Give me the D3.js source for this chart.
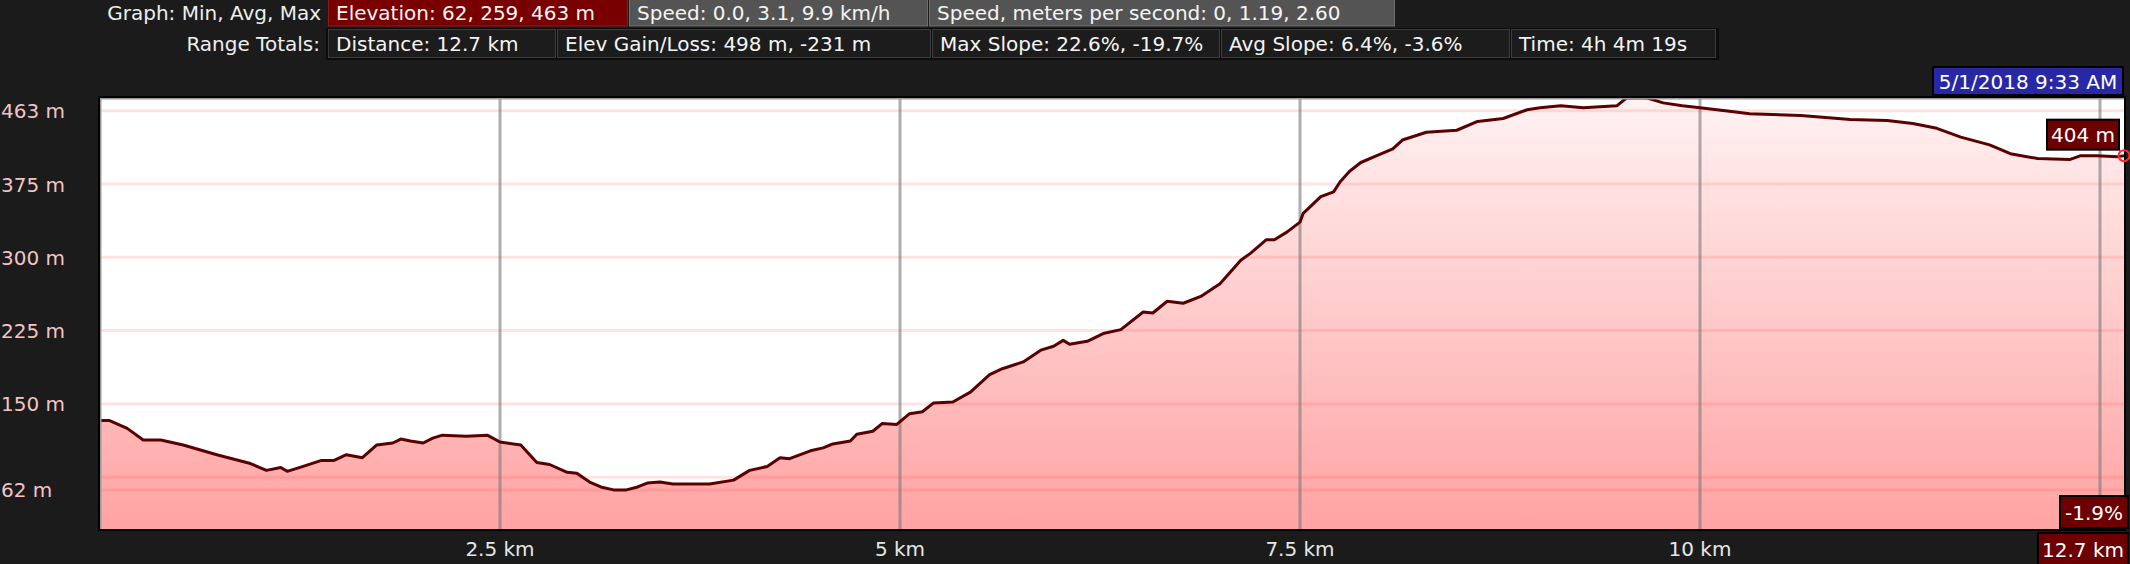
<!DOCTYPE html>
<html>
<head>
<meta charset="utf-8">
<script src="https://cdn.jsdelivr.net/npm/d3@7"></script>
<style>
  html, body { margin: 0; padding: 0; background: #1b1b1b; }
  svg { display: block; }
  text { font-family: "DejaVu Sans", Verdana, sans-serif; font-size: 20px; }
</style>
</head>
<body>
<svg id="chart"></svg>
<script>
// ── Elevation profile (distance in km, elevation in m) ──
const distKm = [
  0, 0.06, 0.17, 0.27, 0.38, 0.52, 0.73, 0.94, 1.04, 1.13, 1.17, 1.25,
  1.38, 1.46, 1.54, 1.64, 1.73, 1.83, 1.88, 1.94, 2.02, 2.08, 2.14, 2.29,
  2.42, 2.5, 2.63, 2.73, 2.81, 2.92, 2.98, 3.06, 3.13, 3.21, 3.29, 3.36,
  3.42, 3.5, 3.58, 3.81, 3.96, 4.06, 4.17, 4.25, 4.31, 4.44, 4.52, 4.58,
  4.69, 4.73, 4.83, 4.89, 4.98, 5.06, 5.14, 5.21, 5.33, 5.44, 5.56, 5.64,
  5.77, 5.88, 5.96, 6.02, 6.06, 6.17, 6.27, 6.38, 6.52, 6.58, 6.67, 6.77,
  6.88, 7.0, 7.13, 7.19, 7.29, 7.34, 7.42, 7.5, 7.52, 7.63, 7.71, 7.75,
  7.81, 7.88, 7.98, 8.08, 8.14, 8.29, 8.48, 8.61, 8.77, 8.92, 9.0, 9.13,
  9.27, 9.48, 9.54, 9.67, 9.77, 9.89, 10.0, 10.21, 10.31, 10.63, 10.94,
  11.17, 11.33, 11.48, 11.63, 11.81, 11.94, 12.11, 12.31, 12.38, 12.48,
  12.61, 12.65
];
const elevM = [
  133, 133, 125, 113, 113, 108, 98, 89, 82, 85, 81, 85,
  92, 92, 98, 95, 108, 110, 114, 112, 110, 115, 118, 117,
  118, 111, 108, 90, 88, 80, 79, 70, 65, 62, 62, 65,
  69, 70, 68, 68, 72, 82, 86, 95, 94, 102, 105, 109,
  112, 119, 122, 130, 129, 140, 142, 151, 152, 162, 180, 186,
  193, 205, 209, 215, 211, 214, 222, 226, 244, 243, 255, 253,
  260, 273, 297, 304, 318, 318, 326, 336, 345, 362, 367, 377,
  388, 397, 404, 411, 420, 428, 430, 439, 442, 451, 453, 455,
  453, 455, 463, 463, 458, 455, 453, 449, 447, 445, 441,
  440, 437, 432, 423, 415, 406, 401, 400, 404, 404,
  403, 404
];

// ── Axis ticks and labels ──
const xTicks = [2.5, 5, 7.5, 10, 12.5];
const xTickLabels = ["2.5 km", "5 km", "7.5 km", "10 km", ""];
const yGrid = [62, 75, 150, 225, 300, 375, 450];
const yLabelValues = [450, 375, 300, 225, 150, 62];
const yLabelTexts = ["463 m", "375 m", "300 m", "225 m", "150 m", "62 m"];

// ── Header stats ──
const statsTop = [
  "Elevation: 62, 259, 463 m",
  "Speed: 0.0, 3.1, 9.9 km/h",
  "Speed, meters per second: 0, 1.19, 2.60"
];
const statsBottom = [
  "Distance: 12.7 km",
  "Elev Gain/Loss: 498 m, -231 m",
  "Max Slope: 22.6%, -19.7%",
  "Avg Slope: 6.4%, -3.6%",
  "Time: 4h 4m 19s"
];
const endLabels = { elev: "404 m", slope: "-1.9%", dist: "12.7 km", time: "5/1/2018 9:33 AM" };

// ── Layout ──
const W = 2130, H = 564;
const plot = { left: 100, right: 2124, top: 98, bottom: 529 };
const topEdges = [328, 629, 929, 1396];
const bottomEdges = [328, 557, 932, 1221, 1511, 1717];

const svg = d3.select("#chart").attr("width", W).attr("height", H);
svg.append("rect").attr("width", W).attr("height", H).attr("fill", "#1b1b1b");

const x = d3.scaleLinear().domain([0, 12.65]).range([plot.left, plot.right]);
const y = d3.scaleLinear().domain([22, 463]).range([plot.bottom, plot.top]);

const data = distKm.map((d, i) => ({ d, e: elevM[i] }));

// gradient for the area
const defs = svg.append("defs");
const grad = defs.append("linearGradient")
  .attr("id", "fillGrad")
  .attr("gradientUnits", "userSpaceOnUse")
  .attr("x1", 0).attr("x2", 0)
  .attr("y1", plot.top).attr("y2", plot.bottom);
grad.append("stop").attr("offset", "0%").attr("stop-color", "#fff2f2");
grad.append("stop").attr("offset", "100%").attr("stop-color", "#ffa3a3");

defs.append("clipPath").attr("id", "plotClip")
  .append("rect")
  .attr("x", plot.left).attr("y", plot.top)
  .attr("width", plot.right - plot.left).attr("height", plot.bottom - plot.top);

// plot background
svg.append("rect")
  .attr("x", plot.left).attr("y", plot.top)
  .attr("width", plot.right - plot.left).attr("height", plot.bottom - plot.top)
  .attr("fill", "#ffffff");

const pg = svg.append("g").attr("clip-path", "url(#plotClip)");

const area = d3.area().x(d => x(d.d)).y0(plot.bottom).y1(d => y(d.e));
const line = d3.line().x(d => x(d.d)).y(d => y(d.e));

pg.append("path").datum(data).attr("d", area).attr("fill", "url(#fillGrad)");

// horizontal grid
pg.selectAll(".hgrid").data(yGrid).join("line")
  .attr("class", "hgrid")
  .attr("x1", plot.left).attr("x2", plot.right)
  .attr("y1", d => y(d)).attr("y2", d => y(d))
  .attr("stroke", "rgba(255,60,60,0.14)")
  .attr("stroke-width", 3);

// vertical grid
pg.selectAll(".vgrid").data(xTicks).join("line")
  .attr("class", "vgrid")
  .attr("x1", d => x(d)).attr("x2", d => x(d))
  .attr("y1", plot.top).attr("y2", plot.bottom)
  .attr("stroke", "rgba(120,120,120,0.6)")
  .attr("stroke-width", 3);

pg.append("path").datum(data).attr("d", line)
  .attr("fill", "none")
  .attr("stroke", "#5a0000")
  .attr("stroke-width", 3)
  .attr("stroke-linejoin", "round");

// plot border
svg.append("rect")
  .attr("x", plot.left - 1).attr("y", plot.top - 1)
  .attr("width", plot.right - plot.left + 2).attr("height", plot.bottom - plot.top + 2)
  .attr("fill", "none").attr("stroke", "#000").attr("stroke-width", 2);
svg.append("path")
  .attr("d", `M${plot.left + 0.75},${plot.bottom}V${plot.top + 0.75}H${plot.right}`)
  .attr("fill", "none").attr("stroke", "#9a9a9a").attr("stroke-width", 1.5);

// end marker
const last = data[data.length - 1];
svg.append("circle")
  .attr("cx", x(last.d)).attr("cy", y(last.e)).attr("r", 5.5)
  .attr("fill", "none").attr("stroke", "#ff2a2a").attr("stroke-width", 2);

// y labels
svg.selectAll(".ylab").data(yLabelValues).join("text")
  .attr("class", "ylab")
  .attr("x", 1).attr("y", d => y(d) + 7.5)
  .attr("fill", "#f2c4c4")
  .text((d, i) => yLabelTexts[i]);

// x labels
svg.selectAll(".xlab").data(xTicks).join("text")
  .attr("class", "xlab")
  .attr("x", d => x(d)).attr("y", 556)
  .attr("text-anchor", "middle")
  .attr("fill", "#e6e6e6")
  .text((d, i) => xTickLabels[i]);

// ── Value boxes at the end of the profile ──
function valueBox(x0, y0, x1, y1, fill, txt) {
  svg.append("rect")
    .attr("x", x0).attr("y", y0).attr("width", x1 - x0).attr("height", y1 - y0)
    .attr("fill", fill).attr("stroke", "#000").attr("stroke-width", 2);
  svg.append("text")
    .attr("x", (x0 + x1) / 2).attr("y", (y0 + y1) / 2 + 7.5)
    .attr("text-anchor", "middle").attr("fill", "#ffffff")
    .text(txt);
}
const ex = x(last.d), ey = y(last.e);
valueBox(ex - 77, ey - 36, ex - 5, ey - 6, "#6c0000", endLabels.elev);
valueBox(W - 70, plot.bottom - 33, W - 2, plot.bottom - 1, "#6c0000", endLabels.slope);
valueBox(W - 92, plot.bottom + 4, W - 2, H + 2, "#6c0000", endLabels.dist);
valueBox(ex - 191, plot.top - 31, ex - 1, plot.top - 3, "#2828a6", endLabels.time);

// ── Header ──
svg.append("text").attr("x", 321).attr("y", 20).attr("text-anchor", "end")
  .attr("fill", "#eeeeee").text("Graph: Min, Avg, Max");
svg.append("text").attr("x", 320).attr("y", 51).attr("text-anchor", "end")
  .attr("fill", "#eeeeee").text("Range Totals:");

statsTop.forEach((s, i) => {
  const x0 = topEdges[i], x1 = topEdges[i + 1];
  svg.append("rect")
    .attr("x", x0 + 0.5).attr("y", -1).attr("width", x1 - x0 - 2).attr("height", 27)
    .attr("fill", i === 0 ? "#780000" : "#545454")
    .attr("stroke", i === 0 ? "#8c1c1c" : "#6e6e6e").attr("stroke-width", 1);
  svg.append("text").attr("x", x0 + 8).attr("y", 20)
    .attr("fill", "#f4f4f4").text(s);
});

svg.append("rect")
  .attr("x", bottomEdges[0] - 2).attr("y", 28)
  .attr("width", bottomEdges[bottomEdges.length - 1] - bottomEdges[0] + 4).attr("height", 32)
  .attr("fill", "#0c0c0c");
statsBottom.forEach((s, i) => {
  const x0 = bottomEdges[i], x1 = bottomEdges[i + 1];
  svg.append("rect")
    .attr("x", x0 + 0.5).attr("y", 29.5).attr("width", x1 - x0 - 2).attr("height", 28)
    .attr("fill", "#1c1c1c").attr("stroke", "#3c3c3c").attr("stroke-width", 1);
  svg.append("text").attr("x", x0 + 8).attr("y", 51)
    .attr("fill", "#f4f4f4").text(s);
});
</script>
</body>
</html>
